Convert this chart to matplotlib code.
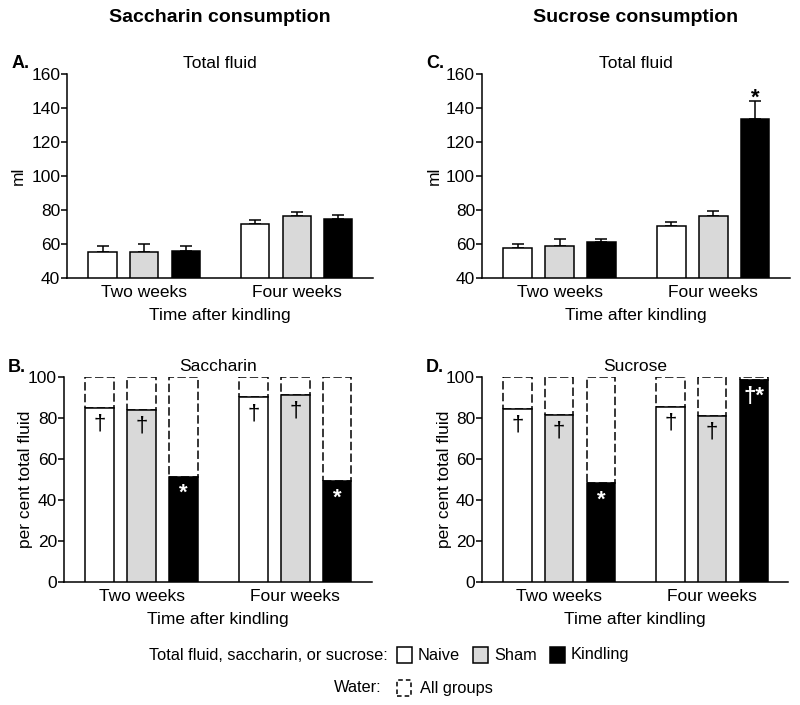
import matplotlib
matplotlib.use("Agg")
import matplotlib.pyplot as plt
from matplotlib.patches import Rectangle

plt.rcParams['font.family'] = ['Liberation Sans', 'DejaVu Sans']

# ---- data ----
groups = ['Naive', 'Sham', 'Kindling']
timepoints = ['Two weeks', 'Four weeks']
colors = ['white', '#d9d9d9', 'black']

sacc_total = [55.0, 55.0, 56.0, 71.8, 76.5, 74.4]
sacc_total_err = [3.7, 4.8, 3.0, 2.4, 2.4, 2.9]
sacc_total_marks = ['', '', '', '', '', '']
sucr_total = [57.7, 58.9, 61.0, 70.3, 76.3, 133.7]
sucr_total_err = [2.3, 4.1, 2.0, 2.5, 3.2, 10.3]
sucr_total_marks = ['', '', '', '', '', '*']

sacc_pct = [85.1, 84.1, 51.4, 90.1, 91.4, 49.1]
sacc_pct_marks = ['†', '†', '*', '†', '†', '*']
sucr_pct = [84.6, 81.7, 48.1, 85.4, 81.0, 98.4]
sucr_pct_marks = ['†', '†', '*', '†', '†', '†*']

# ---- layout ----
xpos = [0, 1, 2, 3.67, 4.67, 5.67]
group_centers = [1, 4.67]
bar_colors = colors * 2
W = 0.68
LW = 1.1
FS = 12.5

fig = plt.figure(figsize=(8.0, 7.05), dpi=100)


def style(ax, ylim, yticks, ylabel, ylab_x, title, letter):
    ax.set_xlim(-0.85, 6.5)
    ax.set_ylim(*ylim)
    ax.set_yticks(yticks)
    ax.set_xticks(group_centers)
    ax.set_xticklabels(timepoints, fontsize=FS)
    ax.tick_params(axis='x', length=0, pad=5)
    ax.tick_params(axis='y', length=4, width=LW, labelsize=FS, pad=1)
    for s in ['top', 'right']:
        ax.spines[s].set_visible(False)
    for s in ['left', 'bottom']:
        ax.spines[s].set_linewidth(LW)
    ax.set_ylabel(ylabel, fontsize=FS)
    ax.yaxis.set_label_coords(ylab_x, 0.5)
    ax.set_xlabel('Time after kindling', fontsize=FS, labelpad=6)
    ax.set_title(title, fontsize=FS, pad=4)
    pos = ax.get_position()
    fig.text(pos.x0 - 56 / 800, pos.y1 + 10 / 705, letter, fontsize=13,
             fontweight='bold', ha='left', va='center')


def total_panel(rect, vals, errs, marks, letter, ylab_x):
    ax = fig.add_axes(rect)
    ax.bar(xpos, [v - 40 for v in vals], bottom=40, width=W,
           color=bar_colors, edgecolor='black', linewidth=LW, zorder=3)
    ax.errorbar(xpos, vals, yerr=[[0] * len(errs), errs], fmt='none',
                ecolor='black', elinewidth=LW, capsize=4.5, capthick=LW, zorder=2)
    for x, v, e, m in zip(xpos, vals, errs, marks):
        if m:
            ax.text(x, v + e + 1.5, m, ha='center', va='center', fontsize=16,
                    fontweight='bold')
    style(ax, (40, 160), range(40, 161, 20), 'ml', ylab_x, 'Total fluid', letter)
    return ax


def pct_panel(rect, vals, marks, title, letter, ylab_x):
    ax = fig.add_axes(rect)
    ax.bar(xpos, [100 - v for v in vals], bottom=vals, width=W,
           color='white', edgecolor='black', linewidth=LW,
           linestyle=(0, (5.5, 2.2)), zorder=2)
    ax.bar(xpos, vals, width=W, color=bar_colors, edgecolor='black',
           linewidth=LW, zorder=3)
    for x, v, m, c in zip(xpos, vals, marks, bar_colors):
        tc = 'white' if c == 'black' else 'black'
        fw = 'bold' if '*' in m else 'normal'
        ax.text(x, v - 8, m, ha='center', va='center', fontsize=16,
                color=tc, fontweight=fw, zorder=4)
    style(ax, (0, 100), range(0, 101, 20), 'per cent total fluid', ylab_x,
          title, letter)
    return ax


total_panel([0.084, 0.6057, 0.382, 0.2894], sacc_total, sacc_total_err,
            sacc_total_marks, 'A.', -0.137)
total_panel([0.6025, 0.6057, 0.385, 0.2894], sucr_total, sucr_total_err,
            sucr_total_marks, 'C.', -0.13)
pct_panel([0.08, 0.1745, 0.385, 0.2907], sacc_pct, sacc_pct_marks,
          'Saccharin', 'B.', -0.10)
pct_panel([0.6025, 0.1745, 0.383, 0.2907], sucr_pct, sucr_pct_marks,
          'Sucrose', 'D.', -0.098)

fig.text(0.084 + 0.382 / 2, 1 - 18 / 705, 'Saccharin consumption', ha='center',
         va='center', fontsize=14, fontweight='bold')
fig.text(0.6025 + 0.385 / 2, 1 - 18 / 705, 'Sucrose consumption', ha='center',
         va='center', fontsize=14, fontweight='bold')

# ---- legend ----
def fx(px):
    return px / 800


def fy(py):
    return 1 - py / 705


LFS = 11.8
y1, y2 = 655, 688
fig.text(fx(388), fy(y1), 'Total fluid, saccharin, or sucrose:', ha='right',
         va='center', fontsize=LFS)
legend_boxes = [(397, 'Naive'), (473, 'Sham'), (550, 'Kindling')]
for (bx, name), c in zip(legend_boxes, colors):
    fig.patches.append(Rectangle((fx(bx), fy(y1 + 8)), 15 / 800, 16 / 705,
                                 transform=fig.transFigure, facecolor=c,
                                 edgecolor='black', linewidth=LW))
    fig.text(fx(bx + 21), fy(y1), name, ha='left', va='center', fontsize=LFS)
fig.text(fx(382), fy(y2), 'Water:', ha='right', va='center', fontsize=LFS)
fig.patches.append(Rectangle((fx(397), fy(y2 + 8)), 14 / 800, 16 / 705,
                             transform=fig.transFigure, facecolor='white',
                             edgecolor='black', linewidth=LW,
                             linestyle=(0, (3, 2))))
fig.text(fx(420), fy(y2), 'All groups', ha='left', va='center', fontsize=LFS)

fig.savefig('out.png', dpi=100)
